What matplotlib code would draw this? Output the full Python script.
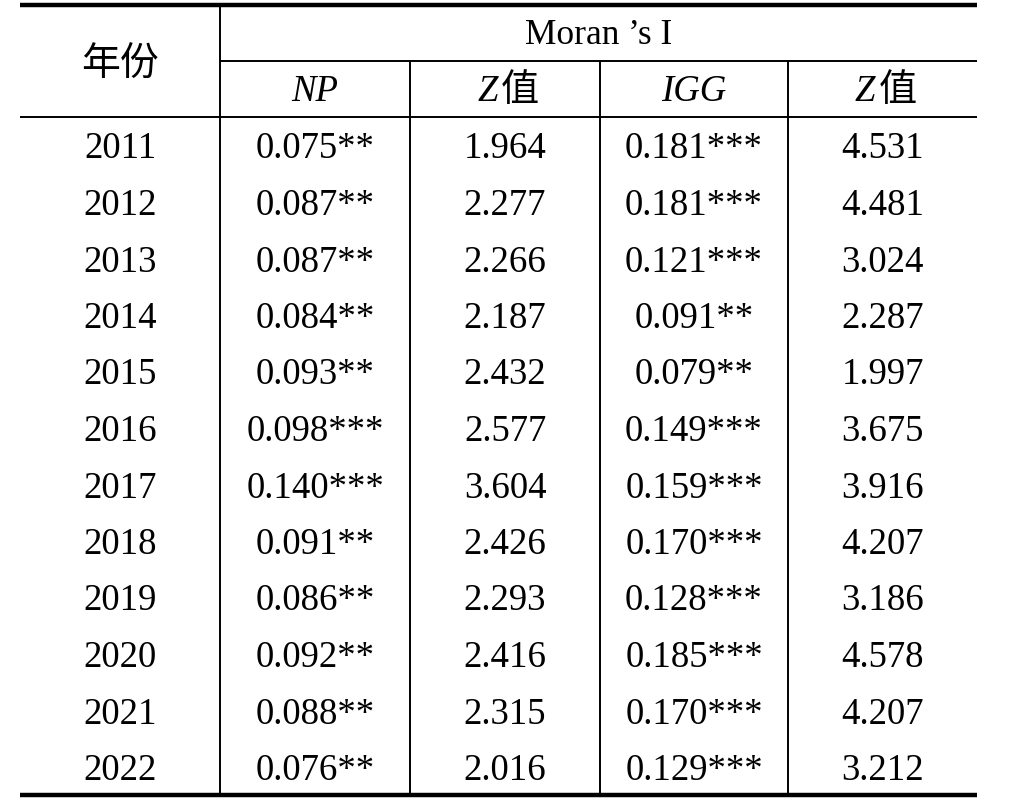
import matplotlib
matplotlib.use("Agg")
import matplotlib.pyplot as plt

years = ["2011", "2012", "2013", "2014", "2015", "2016", "2017", "2018", "2019", "2020", "2021", "2022"]
np_vals = ["0.075", "0.087", "0.087", "0.084", "0.093", "0.098", "0.140", "0.091", "0.086", "0.092", "0.088", "0.076"]
np_sig = ["**", "**", "**", "**", "**", "***", "***", "**", "**", "**", "**", "**"]
np_z = ["1.964", "2.277", "2.266", "2.187", "2.432", "2.577", "3.604", "2.426", "2.293", "2.416", "2.315", "2.016"]
igg_vals = ["0.181", "0.181", "0.121", "0.091", "0.079", "0.149", "0.159", "0.170", "0.128", "0.185", "0.170", "0.129"]
igg_sig = ["***", "***", "***", "**", "**", "***", "***", "***", "***", "***", "***", "***"]
igg_z = ["4.531", "4.481", "3.024", "2.287", "1.997", "3.675", "3.916", "4.207", "3.186", "4.578", "4.207", "3.212"]

W, H = 1010, 808
fig = plt.figure(figsize=(W / 100, H / 100), dpi=100)
ax = fig.add_axes([0, 0, 1, 1])
ax.set_xlim(0, W)
ax.set_ylim(H, 0)
ax.axis("off")

serif = ["Liberation Serif", "DejaVu Serif"]
cjk = ["Noto Sans CJK SC", "DejaVu Sans"]
fs = 26.5

x_left, x_right = 20, 977
col_edges = [x_left, 220, 410, 600, 788, x_right]
centers = [(col_edges[i] + col_edges[i + 1]) / 2 for i in range(5)]

y_top, y_mid, y_head, y_bot = 5, 61, 117, 795
row_h = (y_bot - y_head) / len(years)

# rules
ax.plot([x_left, x_right], [y_top, y_top], color="black", lw=3.2, solid_capstyle="butt")
ax.plot([220, x_right], [y_mid, y_mid], color="black", lw=1.4, solid_capstyle="butt")
ax.plot([x_left, x_right], [y_head, y_head], color="black", lw=1.4, solid_capstyle="butt")
ax.plot([x_left, x_right], [y_bot, y_bot], color="black", lw=3.2, solid_capstyle="butt")
ax.plot([220, 220], [y_top, y_bot], color="black", lw=1.4)
for xe in col_edges[2:5]:
    ax.plot([xe, xe], [y_mid, y_bot], color="black", lw=1.4)

# header
ax.text(centers[0], (y_top + y_head) / 2 + 3, "年份", family=cjk, fontsize=28, ha="center", va="center")
ax.text((220 + x_right) / 2, (y_top + y_mid) / 2 + 3, "Moran ’s I", family=serif, fontsize=fs - 1,
        ha="center", va="center")
yh = (y_mid + y_head) / 2 + 3
ax.text(centers[1], yh, "NP", family=serif, style="italic", fontsize=fs, ha="center", va="center")
ax.text(centers[3], yh, "IGG", family=serif, style="italic", fontsize=fs, ha="center", va="center")
for c in (centers[2], centers[4]):
    ax.text(c - 7, yh, "Z", family=serif, style="italic", fontsize=fs, ha="right", va="center")
    ax.text(c - 4, yh - 1, "值", family=cjk, fontsize=fs + 1, ha="left", va="center")

# body
for i, yr in enumerate(years):
    y = y_head + row_h * (i + 0.5)
    cells = [yr, np_vals[i] + np_sig[i], np_z[i], igg_vals[i] + igg_sig[i], igg_z[i]]
    for c, t in zip(centers, cells):
        ax.text(c, y + 4, t, family=serif, fontsize=fs, ha="center", va="center")

fig.savefig("out.png", dpi=100)
